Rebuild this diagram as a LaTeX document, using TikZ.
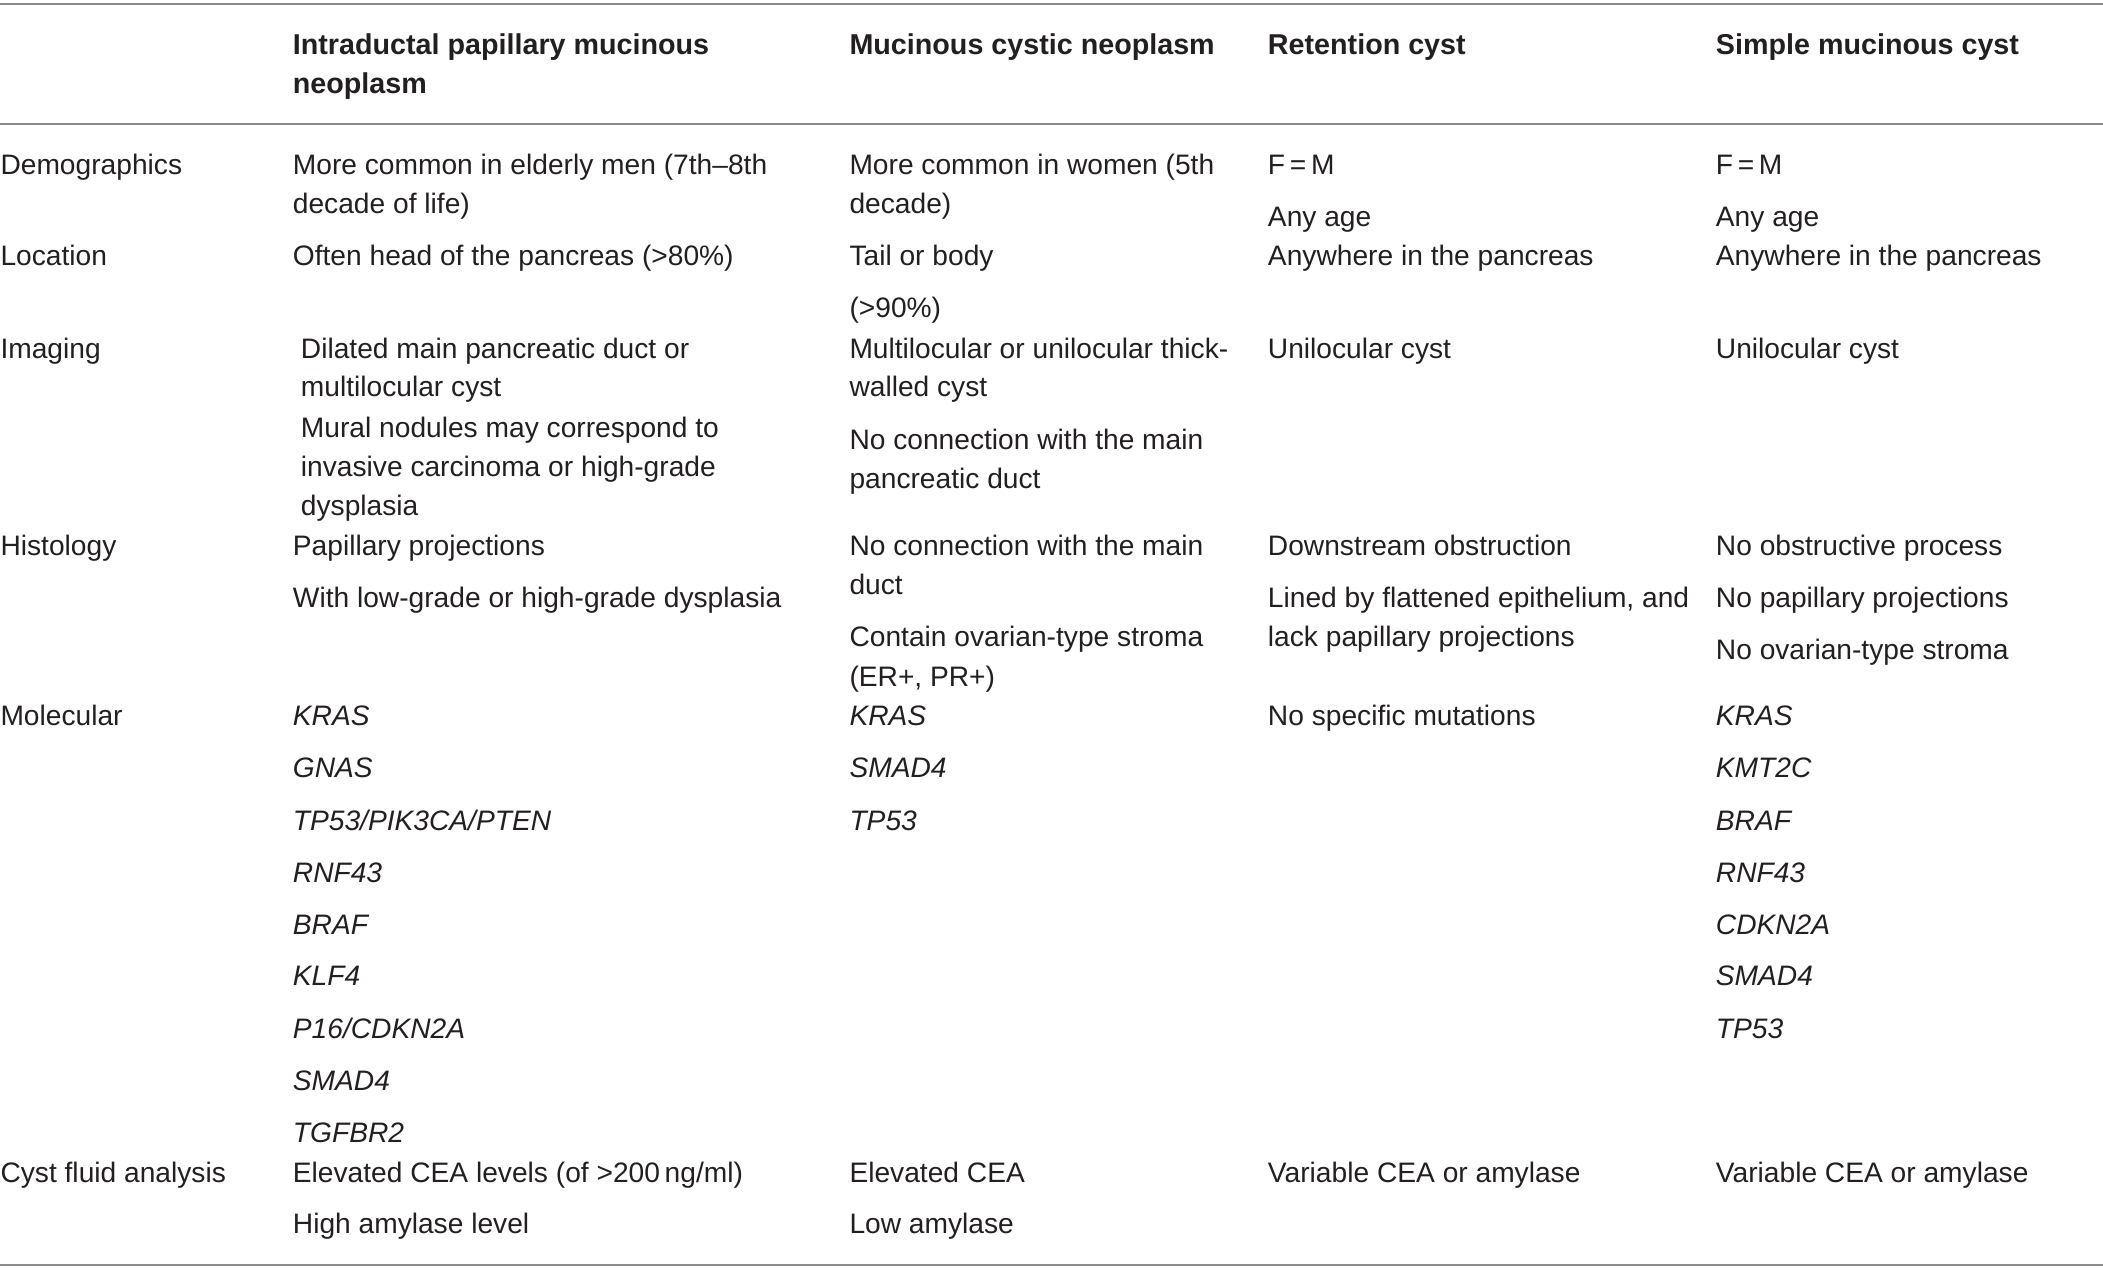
\documentclass[tikz,border=0pt]{standalone}
\usepackage{fontspec}
\setmainfont{Liberation Sans}
\usepackage{xcolor}
\usepackage{tikz}
\definecolor{rulegray}{HTML}{8C8C8C}
\definecolor{ink}{HTML}{231F20}

\begin{document}
\begin{tikzpicture}[
    x=0.5pt, y=-0.5pt,
    cell/.style={anchor=base west, inner sep=0pt, text=ink, font=\fontsize{10.5}{12}\selectfont},
    head/.style={cell, font=\fontsize{10.7}{12}\selectfont\bfseries},
    gene/.style={cell, font=\fontsize{10.5}{12}\selectfont\itshape},
    rule/.style={draw=rulegray, line width=0.75pt}
]
\useasboundingbox (0,0) rectangle (1568,957);

% Rules
\coordinate (topL) at (0,3);      \coordinate (topR) at (1568,3);
\coordinate (midL) at (0,92.5);   \coordinate (midR) at (1568,92.5);
\coordinate (botL) at (0,943);    \coordinate (botR) at (1568,943);
\draw[rule] (topL) -- (topR);
\draw[rule] (midL) -- (midR);
\draw[rule] (botL) -- (botR);

% Header
\node[head] (hipmn) at (218,41) {Intraductal papillary mucinous};
\node[head] (hipmnb) at (218,70) {neoplasm};
\node[head] (hmcn) at (633,41) {Mucinous cystic neoplasm};
\node[head] (hret) at (945,41) {Retention cyst};
\node[head] (hsmc) at (1279,41) {Simple mucinous cyst};

% Demographics
\node[cell] (demo) at (0,130) {Demographics};
\node[cell] (demoipmn) at (218,130) {More common in elderly men (7th--8th};
\node[cell] (demoipmnb) at (218,159) {decade of life)};
\node[cell] (demomcn) at (633,130) {More common in women (5th};
\node[cell] (demomcnb) at (633,159) {decade)};
\node[cell] (demoret) at (945,130) {F\,=\,M};
\node[cell] (demoretb) at (945,169) {Any age};
\node[cell] (demosmc) at (1279,130) {F\,=\,M};
\node[cell] (demosmcb) at (1279,169) {Any age};

% Location
\node[cell] (loc) at (0,198) {Location};
\node[cell] (locipmn) at (218,198) {Often head of the pancreas (>80\%)};
\node[cell] (locmcn) at (633,198) {Tail or body};
\node[cell] (locmcnb) at (633,237) {(>90\%)};
\node[cell] (locret) at (945,198) {Anywhere in the pancreas};
\node[cell] (locsmc) at (1279,198) {Anywhere in the pancreas};

% Imaging
\node[cell] (img) at (0,267) {Imaging};
\node[cell] (imgipmn) at (224,267) {Dilated main pancreatic duct or};
\node[cell] (imgipmnb) at (224,296) {multilocular cyst};
\node[cell] (imgipmnc) at (224,326) {Mural nodules may correspond to};
\node[cell] (imgipmnd) at (224,355) {invasive carcinoma or high-grade};
\node[cell] (imgipmne) at (224,384) {dysplasia};
\node[cell] (imgmcn) at (633,267) {Multilocular or unilocular thick-};
\node[cell] (imgmcnb) at (633,296) {walled cyst};
\node[cell] (imgmcnc) at (633,335) {No connection with the main};
\node[cell] (imgmcnd) at (633,364) {pancreatic duct};
\node[cell] (imgret) at (945,267) {Unilocular cyst};
\node[cell] (imgsmc) at (1279,267) {Unilocular cyst};

% Histology
\node[cell] (hist) at (0,414) {Histology};
\node[cell] (histipmn) at (218,414) {Papillary projections};
\node[cell] (histipmnb) at (218,453) {With low-grade or high-grade dysplasia};
\node[cell] (histmcn) at (633,414) {No connection with the main};
\node[cell] (histmcnb) at (633,443) {duct};
\node[cell] (histmcnc) at (633,482) {Contain ovarian-type stroma};
\node[cell] (histmcnd) at (633,512) {(ER+, PR+)};
\node[cell] (histret) at (945,414) {Downstream obstruction};
\node[cell] (histretb) at (945,453) {Lined by flattened epithelium, and};
\node[cell] (histretc) at (945,482) {lack papillary projections};
\node[cell] (histsmc) at (1279,414) {No obstructive process};
\node[cell] (histsmcb) at (1279,453) {No papillary projections};
\node[cell] (histsmcc) at (1279,492) {No ovarian-type stroma};

% Molecular
\node[cell] (mol) at (0,541) {Molecular};
\node[gene] (molipmn) at (218,541) {KRAS};
\node[gene] (molipmnb) at (218,580) {GNAS};
\node[gene] (molipmnc) at (218,619) {TP53/PIK3CA/PTEN};
\node[gene] (molipmnd) at (218,658) {RNF43};
\node[gene] (molipmne) at (218,697) {BRAF};
\node[gene] (molipmnf) at (218,735) {KLF4};
\node[gene] (molipmng) at (218,774) {P16/CDKN2A};
\node[gene] (molipmnh) at (218,813) {SMAD4};
\node[gene] (molipmni) at (218,852) {TGFBR2};
\node[gene] (molmcn) at (633,541) {KRAS};
\node[gene] (molmcnb) at (633,580) {SMAD4};
\node[gene] (molmcnc) at (633,619) {TP53};
\node[cell] (molret) at (945,541) {No specific mutations};
\node[gene] (molsmc) at (1279,541) {KRAS};
\node[gene] (molsmcb) at (1279,580) {KMT2C};
\node[gene] (molsmcc) at (1279,619) {BRAF};
\node[gene] (molsmcd) at (1279,658) {RNF43};
\node[gene] (molsmce) at (1279,697) {CDKN2A};
\node[gene] (molsmcf) at (1279,735) {SMAD4};
\node[gene] (molsmcg) at (1279,774) {TP53};

% Cyst fluid analysis
\node[cell] (fluid) at (0,882) {Cyst fluid analysis};
\node[cell] (fluidipmn) at (218,882) {Elevated CEA levels (of >200\,ng/ml)};
\node[cell] (fluidipmnb) at (218,920) {High amylase level};
\node[cell] (fluidmcn) at (633,882) {Elevated CEA};
\node[cell] (fluidmcnb) at (633,920) {Low amylase};
\node[cell] (fluidret) at (945,882) {Variable CEA or amylase};
\node[cell] (fluidsmc) at (1279,882) {Variable CEA or amylase};

\end{tikzpicture}
\end{document}
